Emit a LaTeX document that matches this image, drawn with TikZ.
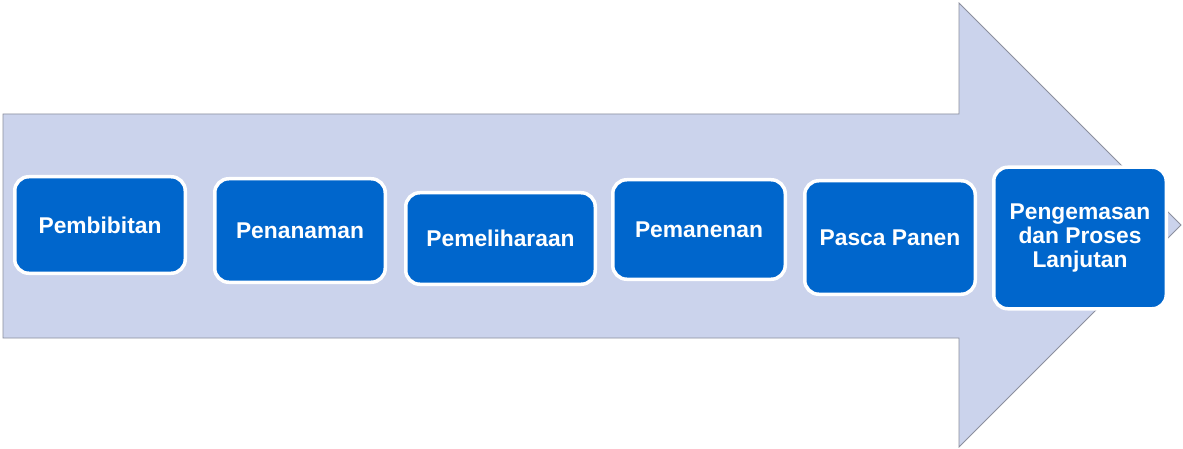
\documentclass[tikz,border=0pt]{standalone}
\usepackage{fontspec}
\setmainfont{Liberation Sans}
\definecolor{arrowfill}{HTML}{CBD3EC}
\definecolor{arrowline}{HTML}{8C8F9E}
\definecolor{boxfill}{HTML}{0066CC}
\tikzset{
  stagebox/.style={draw=white, line width=3.5pt, fill=boxfill, rounded corners=14pt,
    text=white, font=\bfseries\fontsize{22.8}{24}\selectfont, align=center, inner sep=0pt},
}
\begin{document}
\begin{tikzpicture}[x=1pt,y=-1pt]
\useasboundingbox (0,0) rectangle (1183,449);
\fill[white] (0,0) rectangle (1183,449);
\draw[fill=arrowfill, draw=arrowline, line width=0.8pt, line join=miter]
  (3,114) -- (959,114) -- (959,3) -- (1181,225) -- (959,447) -- (959,338) -- (3,338) -- cycle;
\node[stagebox, minimum width=170.5pt, minimum height=96.5pt] (s1) at (100,225) {Pembibitan};
\node[stagebox, minimum width=170.5pt, minimum height=103.5pt] (s2) at (300,230.5) {Penanaman};
\node[stagebox, minimum width=189.5pt, minimum height=91.5pt] (s3) at (500.5,238.5) {Pemeliharaan};
\node[stagebox, minimum width=172.5pt, minimum height=99.5pt] (s4) at (699,229.5) {Pemanenan};
\node[stagebox, minimum width=170.5pt, minimum height=113.5pt] (s5) at (890,237.5) {Pasca Panen};
\node[stagebox, minimum width=172.5pt, minimum height=141.5pt] (s6) at (1080,238) {Pengemasan\\dan Proses\\Lanjutan};
\end{tikzpicture}
\end{document}
